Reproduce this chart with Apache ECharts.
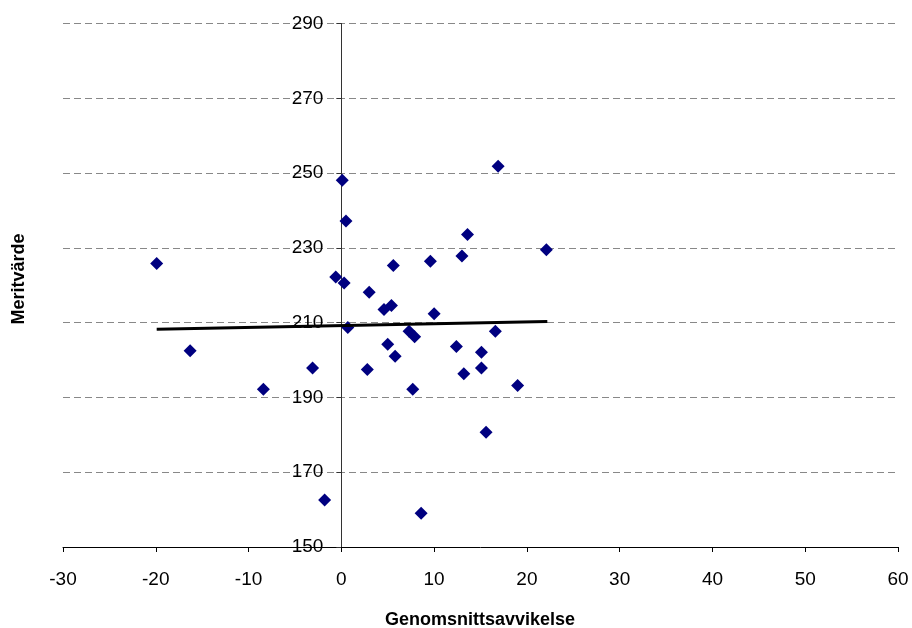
<!DOCTYPE html>
<html>
<head>
<meta charset="utf-8">
<script src="https://cdn.jsdelivr.net/npm/echarts@6/dist/echarts.min.js"></script>
<style>
html,body{margin:0;padding:0;background:#fff;}
#chart{width:912px;height:628px;}
</style>
</head>
<body>
<div id="chart"></div>
<script>
// Genomsnittsavvikelse (x) values
var xValues = [-19.9, -16.3, -8.4, -3.1, -1.8, -0.6, 0.1, 0.5, 0.3, 0.7,
  3.0, 2.8, 4.6, 5.4, 5.6, 5.0, 5.8, 7.3, 7.9, 7.7,
  8.6, 9.6, 10.0, 12.4, 13.0, 13.6, 13.2, 15.1, 15.1, 15.6,
  16.6, 16.9, 19.0, 22.1];
// Meritvärde (y) values
var yValues = [225.8, 202.5, 192.2, 197.9, 162.6, 222.2, 248.1, 237.2, 220.6, 208.7,
  218.1, 197.5, 213.5, 214.6, 225.3, 204.2, 201.0, 207.7, 206.2, 192.2,
  159.0, 226.4, 212.4, 203.6, 227.8, 233.6, 196.3, 202.1, 197.9, 180.7,
  207.7, 251.8, 193.2, 229.5];
// Linear trend line end points
var trendX = [-19.9, 22.2];
var trendY = [208.2, 210.3];

var xTicks = {min: -30, max: 60, interval: 10};
var yTicks = {min: 150, max: 290, interval: 20};

var points = xValues.map(function (x, i) { return [x, yValues[i]]; });
var trend = trendX.map(function (x, i) { return [x, trendY[i]]; });

var gridLeft = 63, gridRight = 14;
var plotWidth = 912 - gridLeft - gridRight;
// place the y axis where x = 0 (as in the original, the value axis crosses at zero)
var yAxisShift = plotWidth * (0 - xTicks.min) / (xTicks.max - xTicks.min);

var chart = echarts.init(document.getElementById('chart'), null, {renderer: 'canvas'});
chart.setOption({
  animation: false,
  backgroundColor: '#ffffff',
  grid: {left: gridLeft, right: gridRight, top: 23.5, bottom: 81, containLabel: false},
  xAxis: {
    type: 'value',
    min: xTicks.min, max: xTicks.max, interval: xTicks.interval,
    axisLine: {show: true, onZero: false, lineStyle: {color: '#000', width: 1}},
    axisTick: {show: true, inside: false, length: 5, lineStyle: {color: '#000'}},
    axisLabel: {color: '#000', fontFamily: 'Liberation Sans, Arial, sans-serif', fontSize: 19, margin: 23},
    splitLine: {show: false}
  },
  yAxis: {
    type: 'value',
    position: 'left',
    offset: -yAxisShift,
    min: yTicks.min, max: yTicks.max, interval: yTicks.interval,
    axisLine: {show: true, onZero: false, lineStyle: {color: '#333', width: 1}},
    axisTick: {show: true, inside: false, length: 5, lineStyle: {color: '#333'}},
    axisLabel: {color: '#000', fontFamily: 'Liberation Sans, Arial, sans-serif', fontSize: 19, margin: 18},
    splitLine: {show: true, lineStyle: {color: '#888', type: [7, 4], width: 1}}
  },
  series: [
    {
      type: 'scatter',
      data: points,
      symbol: 'diamond',
      symbolSize: 13,
      itemStyle: {color: '#000080', opacity: 1},
      z: 3
    },
    {
      type: 'line',
      data: trend,
      showSymbol: false,
      symbol: 'none',
      lineStyle: {color: '#000', width: 3},
      z: 4
    }
  ],
  graphic: [
    {
      type: 'text',
      x: 480, y: 620,
      style: {
        text: 'Genomsnittsavvikelse',
        font: 'bold 18px "Liberation Sans", Arial, sans-serif',
        fill: '#000', textAlign: 'center', textVerticalAlign: 'middle'
      }
    },
    {
      type: 'text',
      x: 19, y: 279,
      rotation: Math.PI / 2,
      style: {
        text: 'Meritvärde',
        font: 'bold 18px "Liberation Sans", Arial, sans-serif',
        fill: '#000', textAlign: 'center', textVerticalAlign: 'middle'
      }
    }
  ]
});
</script>
</body>
</html>
